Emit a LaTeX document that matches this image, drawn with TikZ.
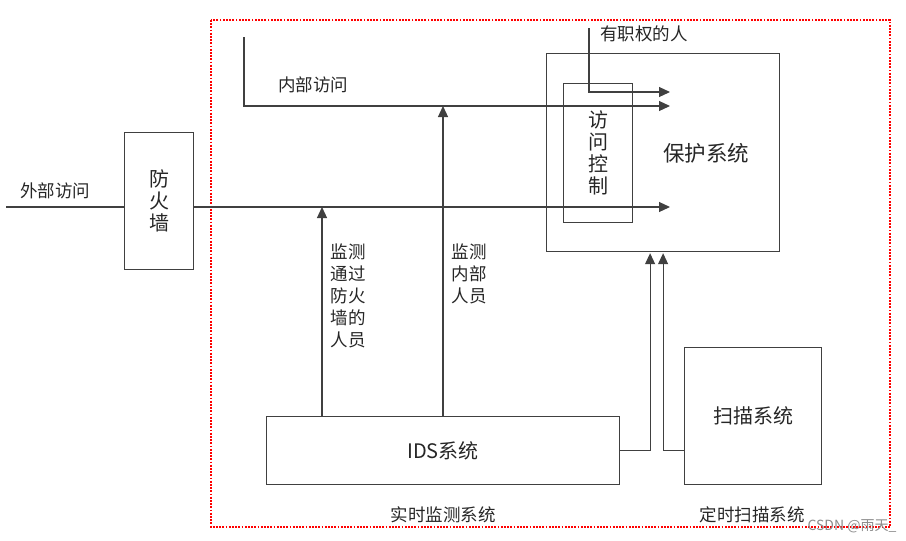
\documentclass[tikz,border=0pt]{standalone}
\usepackage{fontspec}
\newfontfamily\cjk{Noto Sans CJK SC}
\usetikzlibrary{arrows.meta}

\newcommand*\linecol{black!75}
\tikzset{
    box/.style={
        draw=\linecol,
        line width=1.2pt,
        rectangle,
        anchor=north west,
        inner sep=0pt,
        align=center,
        text=black!85,
        font=\cjk\fontsize{20}{22}\selectfont
    },
    lbl/.style={
        text=black!85,
        inner sep=0pt,
        align=left,
        font=\cjk\fontsize{17.5}{22}\selectfont
    },
    wire/.style={draw=\linecol, line width=1.2pt},
    arr/.style={wire, -{Triangle[length=11pt,width=10pt]}}
}

\begin{document}
\begin{tikzpicture}[x=1pt,y=-1pt]

    \useasboundingbox (0,0) rectangle (906,541);

    % The red dotted frame round the inside.
    \draw[red, line width=1.6pt, dash pattern=on 1.8pt off 1.4pt] (211,20) rectangle (890,527);

    % Boxes.
    \node[box, minimum width=69pt, minimum height=137pt] (fw) at (124,132) {防\\火\\墙};
    \node[box, minimum width=233pt, minimum height=198pt] (prot) at (546,53) {};
    \node[font=\cjk\fontsize{21.5}{22}\selectfont, text=black!85] at (706,153) {保护系统};
    \node[box, minimum width=69pt, minimum height=139pt] (acc) at (563,83) {访\\问\\控\\制};
    \node[box, minimum width=353pt, minimum height=68pt] (ids) at (266,416) {IDS系统};
    \node[box, minimum width=137pt, minimum height=137pt] (scan) at (684,347) {扫描系统};

    % Free ends of the connectors.
    \coordinate (ext) at (6,207);
    \coordinate (in1) at (670,92);
    \coordinate (in2) at (670,106);
    \coordinate (in3) at (670,207);
    \coordinate (auth) at (589,28);
    \coordinate (intop) at (244,37);
    \coordinate (m1) at (322,207);
    \coordinate (m2) at (443,106);

    % Access paths.
    \draw[wire] (ext) -- (fw.west |- ext);
    \draw[arr] (fw.east |- ext) -- (in3);
    \draw[arr] (intop) |- (in2);
    \draw[arr] (auth) |- (in1);

    % Monitoring.
    \draw[arr] (ids.north -| m1) -- (m1);
    \draw[arr] (ids.north -| m2) -- (m2);
    \draw[arr] (ids.east) -| ([xshift=-13pt,yshift=-1pt]prot.south);
    \draw[arr] (scan.west |- ids.east) -| ([yshift=-1pt]prot.south);

    % Labels.
    \node[lbl] at (55,191) {外部访问};
    \node[lbl] at (313,85) {内部访问};
    \node[lbl] at (644,34) {有职权的人};
    \node[lbl, anchor=north] at (348,244) {监测\\通过\\防火\\墙的\\人员};
    \node[lbl, anchor=north] at (469,244) {监测\\内部\\人员};
    \node[lbl] at (443,515) {实时监测系统};
    \node[lbl] at (752,515) {定时扫描系统};
    \node[text=black!45, font=\cjk\fontsize{14}{16}\selectfont, inner sep=0pt] at (852,526) {CSDN @雨天\_};

\end{tikzpicture}
\end{document}
